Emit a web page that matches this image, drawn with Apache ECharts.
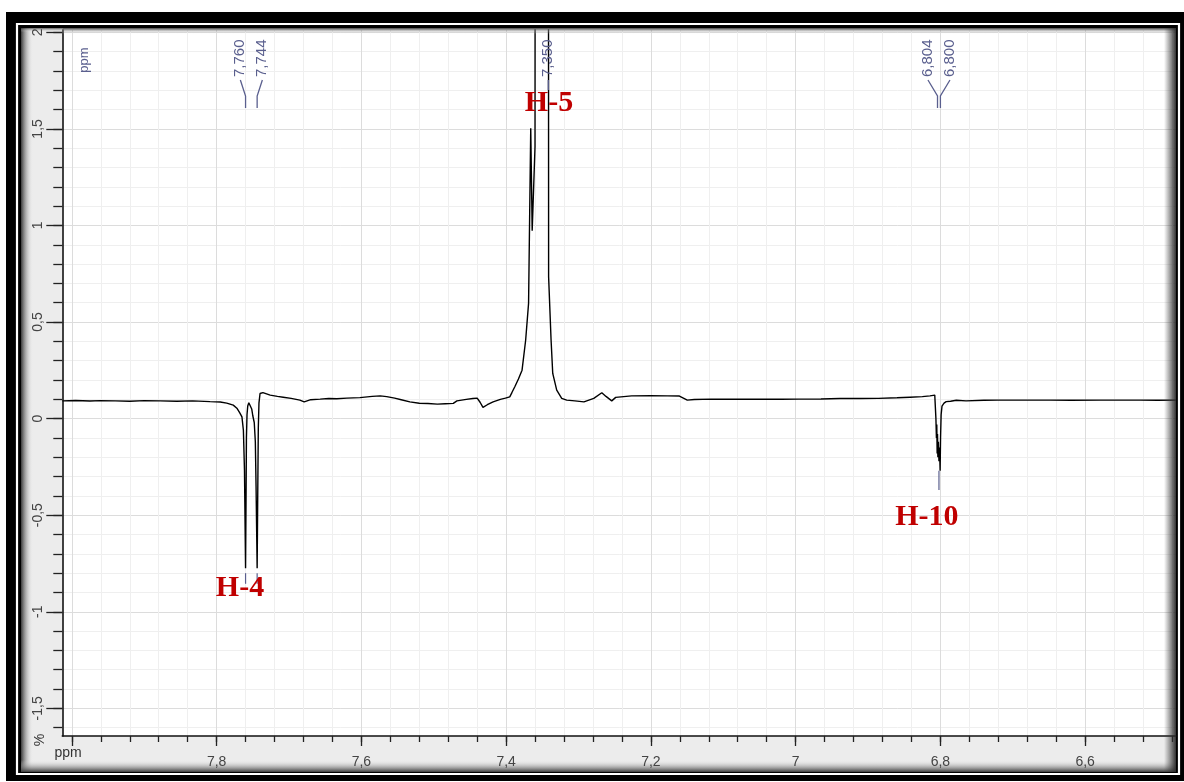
<!DOCTYPE html>
<html><head><meta charset="utf-8">
<script src="https://cdn.jsdelivr.net/npm/echarts@6/dist/echarts.min.js"></script>
<style>html,body{margin:0;padding:0;background:#fff;}#c{width:1184px;height:782px;}</style>
</head><body><div id="c"></div>
<script>
// ---- data (chemical shift in ppm, intensity) ----
const ppm = [8.013,7.995,7.975,7.961,7.940,7.920,7.900,7.878,7.855,7.833,7.809,7.795,7.786,7.777,7.772,7.768,7.765,7.763,7.7615,7.7600,
7.7594,7.7588,7.7580,7.7570,7.7555,7.7545,7.7530,7.7515,7.7500,7.7480,7.7465,7.7455,7.7440,7.7432,7.7424,7.7415,7.7400,7.7380,7.7360,
7.726,7.716,7.708,7.697,7.685,7.679,7.670,7.657,7.645,7.634,7.620,7.602,7.585,7.574,7.565,7.554,7.545,7.533,7.520,7.508,7.495,7.484,7.473,
7.468,7.455,7.446,7.440,7.436,7.432,7.426,7.418,7.408,7.401,7.395,7.392,7.388,7.383,7.378,7.373,7.369,7.366,7.364,7.3601,7.3598,7.350,
7.3416,7.3413,7.3379,7.3356,7.3301,7.3232,7.3163,7.305,7.2925,7.2789,7.2678,7.2620,7.2595,7.2541,7.2486,7.2267,7.2000,7.1772,7.1606,
7.1497,7.1400,7.1167,7.080,7.0492,7.020,6.9956,6.965,6.9387,6.910,6.8858,6.860,6.842,6.825,6.8144,6.8078,6.8070,6.8062,6.8055,6.8050,
6.8045,6.8040,6.8035,6.8028,6.8020,6.8012,6.8004,6.7998,6.7990,6.7978,6.7950,6.7920,6.7860,6.7780,6.7646,6.7400,6.7208,6.690,6.6486,
6.620,6.5794,6.550,6.524,6.500,6.4745];
const intensity = [0.092,0.094,0.091,0.093,0.092,0.090,0.093,0.092,0.090,0.092,0.088,0.086,0.080,0.070,0.054,0.030,0.009,-0.060,-0.267,-0.775,
-0.45,-0.10,0.02,0.065,0.082,0.083,0.072,0.050,0.015,-0.02,-0.12,-0.35,-0.775,-0.40,-0.05,0.08,0.13,0.138,0.135,
0.122,0.115,0.111,0.105,0.096,0.087,0.098,0.101,0.104,0.103,0.106,0.109,0.115,0.118,0.114,0.106,0.098,0.087,0.080,0.078,0.075,0.077,0.079,
0.092,0.100,0.104,0.106,0.085,0.058,0.072,0.087,0.100,0.106,0.113,0.135,0.165,0.205,0.251,0.407,0.597,1.503,0.973,1.408,3.5,5.0,
3.5,0.734,0.407,0.234,0.148,0.105,0.096,0.092,0.087,0.105,0.134,0.115,0.105,0.092,0.110,0.118,0.119,0.118,0.117,
0.096,0.099,0.101,0.100,0.101,0.100,0.101,0.102,0.104,0.104,0.105,0.108,0.111,0.114,0.118,0.122,0.12,0.00,-0.10,-0.03,
-0.18,-0.08,-0.20,-0.12,-0.22,-0.15,-0.27,-0.10,0.02,0.065,0.08,0.088,0.090,0.095,0.092,0.095,0.096,0.096,0.096,
0.095,0.096,0.096,0.096,0.095,0.096];

// ---- axes ----
const xMin = 6.4745, xMax = 8.0132;
const yMin = -1.643, yMax = 2.012;
const xMajorTicks = [8.0, 7.8, 7.6, 7.4, 7.2, 7.0, 6.8, 6.6];
const xTickLabels = [7.8, 7.6, 7.4, 7.2, 7.0, 6.8, 6.6];
const yMajorTicks = [-1.5, -1, -0.5, 0, 0.5, 1, 1.5, 2];
const xMinorStep = 0.04, yMinorStep = 0.1;

// ---- annotations ----
const pickPpm = [7.760, 7.744, 7.350, 6.804, 6.800];
const pickLabels = ['7,760', '7,744', '7,350', '6,804', '6,800'];
const pickGroups = [[0, 1], [2], [3, 4]];
const assignLabels = ['H-4', 'H-5', 'H-10'];
const assignPpm = [7.7677, 7.3408, 6.8186];
const assignVal = [-0.878, 1.634, -0.51];
const troughMarks = [[7.760, -0.80, -0.855], [7.744, -0.80, -0.855], [6.802, -0.27, -0.37]];

const xMinor = [], yMinor = [];
for (let k = Math.ceil(xMin / xMinorStep - 1e-9); k * xMinorStep <= xMax + 1e-9; k++) xMinor.push(+(k * xMinorStep).toFixed(3));
for (let k = Math.ceil(yMin / yMinorStep - 1e-9); k * yMinorStep <= yMax + 1e-9; k++) yMinor.push(+(k * yMinorStep).toFixed(3));

const comma = v => String(v).replace('.', ',');
const FONT = 'Liberation Sans, Arial, sans-serif';
const ANN = '#5a5f8e';

const chart = echarts.init(document.getElementById('c'), null, {renderer: 'canvas'});
const PL = 62.3, PT = 30, PR = 1176, PB = 736;

const baseX = {type: 'value', inverse: true, min: xMin, max: xMax, position: 'bottom', gridIndex: 0};
const baseY = {type: 'value', min: yMin, max: yMax, position: 'left', gridIndex: 0};

chart.setOption({
  animation: false,
  backgroundColor: 'transparent',
  grid: {left: PL, top: PT, width: PR - PL, height: PB - PT, containLabel: false, outerBoundsMode: 'none', show: false},
  xAxis: [
    Object.assign({}, baseX, {
      axisLine: {show: true, onZero: false, lineStyle: {color: '#111', width: 1.6}},
      axisTick: {show: true, customValues: xMinor, length: 6, lineStyle: {color: '#222', width: 1.3}},
      axisLabel: {show: false},
      splitLine: {show: true, lineStyle: {color: '#efefef', width: 1}}
    }),
    Object.assign({}, baseX, {
      axisLine: {show: false, onZero: false},
      axisTick: {show: true, customValues: xMajorTicks, length: 10, lineStyle: {color: '#222', width: 1.3}},
      axisLabel: {show: true, customValues: xTickLabels, formatter: comma, color: '#444', fontSize: 14, fontFamily: FONT, margin: 19},
      splitLine: {show: true, lineStyle: {color: '#dcdcdc', width: 1}}
    })
  ],
  yAxis: [
    Object.assign({}, baseY, {
      axisLine: {show: true, onZero: false, lineStyle: {color: '#111', width: 1.6}},
      axisTick: {show: true, customValues: yMinor, length: 9, lineStyle: {color: '#222', width: 1.3}},
      axisLabel: {show: false},
      splitLine: {show: true, lineStyle: {color: '#efefef', width: 1}}
    }),
    Object.assign({}, baseY, {
      axisLine: {show: false, onZero: false},
      axisTick: {show: true, customValues: yMajorTicks, length: 16, lineStyle: {color: '#222', width: 1.3}},
      axisLabel: {show: true, customValues: yMajorTicks, formatter: comma, rotate: 90, color: '#444', fontSize: 14, fontFamily: FONT, margin: 17},
      splitLine: {show: true, lineStyle: {color: '#dcdcdc', width: 1}}
    })
  ],
  series: [{
    type: 'line', xAxisIndex: 1, yAxisIndex: 1,
    data: ppm.map((p, i) => [p, intensity[i]]),
    symbol: 'none', showSymbol: false, clip: true, z: 5,
    lineStyle: {color: '#000', width: 1.4}
  }]
});

const px = (x, y) => chart.convertToPixel({xAxisIndex: 1, yAxisIndex: 1}, [x, y]);
const els = [];
// frame
els.push({type: 'rect', z: -20, shape: {x: 6, y: 12, width: 1190, height: 769}, style: {fill: '#000'}});
els.push({type: 'rect', z: -19, shape: {x: 17, y: 24, width: 1162, height: 750}, style: {fill: 'none', stroke: '#fff', lineWidth: 2.2}});
els.push({type: 'rect', z: -18, shape: {x: 21, y: 28, width: PR - 21, height: 772 - 28}, style: {fill: '#ececec'}});
els.push({type: 'rect', z: -17, shape: {x: 21, y: 28, width: 12, height: 744},
  style: {fill: {type: 'linear', x: 0, y: 0, x2: 1, y2: 0, colorStops: [{offset: 0, color: '#3a3a3a'}, {offset: 1, color: 'rgba(236,236,236,0)'}]}}});
els.push({type: 'rect', z: -17, shape: {x: 21, y: 760, width: PR - 21, height: 12},
  style: {fill: {type: 'linear', x: 0, y: 0, x2: 0, y2: 1, colorStops: [{offset: 0, color: 'rgba(236,236,236,0)'}, {offset: 1, color: '#3a3a3a'}]}}});
els.push({type: 'rect', z: -17, shape: {x: 21, y: 28, width: PL - 21, height: 4},
  style: {fill: {type: 'linear', x: 0, y: 0, x2: 0, y2: 1, colorStops: [{offset: 0, color: 'rgba(40,40,40,0.7)'}, {offset: 1, color: 'rgba(236,236,236,0)'}]}}});
els.push({type: 'rect', z: -16, shape: {x: PL, y: PT, width: PR - PL, height: PB - PT}, style: {fill: '#fff'}});
// edge shadows
els.push({type: 'rect', z: 100, silent: true, shape: {x: PL, y: 28, width: PR - PL, height: 6},
  style: {fill: {type: 'linear', x: 0, y: 0, x2: 0, y2: 1, colorStops: [{offset: 0, color: 'rgba(40,40,40,0.85)'}, {offset: 1, color: 'rgba(255,255,255,0)'}]}}});
els.push({type: 'rect', z: 100, silent: true, shape: {x: PR - 12, y: 28, width: 12, height: 744},
  style: {fill: {type: 'linear', x: 0, y: 0, x2: 1, y2: 0, colorStops: [{offset: 0, color: 'rgba(60,60,60,0)'}, {offset: 1, color: 'rgba(40,40,40,0.95)'}]}}});
// axis unit texts
els.push({type: 'text', z: 50, x: 68, y: 753, style: {text: 'ppm', fill: '#333', font: '14px ' + FONT, textAlign: 'center', textVerticalAlign: 'middle'}});
els.push({type: 'text', z: 50, x: 40, y: 740, rotation: Math.PI / 2, style: {text: '%', fill: '#333', font: '14px ' + FONT, textAlign: 'center', textVerticalAlign: 'middle'}});
els.push({type: 'text', z: 50, x: 84, y: 60, rotation: Math.PI / 2, style: {text: 'ppm', fill: ANN, font: '13px ' + FONT, textAlign: 'center', textVerticalAlign: 'middle'}});
// peak picks
const textBottom = 77, bendTop = 80, bendY = 96, lineEnd = 108;
pickGroups.forEach(g => {
  const xs = g.map(i => px(pickPpm[i], 0)[0]);
  if (g.length === 2) {
    const c = (xs[0] + xs[1]) / 2;
    const tx = [c - 11, c + 11];
    g.forEach((i, k) => {
      els.push({type: 'text', z: 50, x: tx[k], y: textBottom, rotation: Math.PI / 2,
        style: {text: pickLabels[i], fill: ANN, font: '15px ' + FONT, textAlign: 'left', textVerticalAlign: 'middle'}});
      els.push({type: 'polyline', z: 50, shape: {points: [[tx[k], bendTop], [xs[k], bendY], [xs[k], lineEnd]]},
        style: {stroke: ANN, lineWidth: 1.3, fill: null}});
    });
  } else {
    const i = g[0];
    els.push({type: 'text', z: 50, x: xs[0] + 6, y: textBottom, rotation: Math.PI / 2,
      style: {text: pickLabels[i], fill: ANN, font: '15px ' + FONT, textAlign: 'left', textVerticalAlign: 'middle'}});
    els.push({type: 'polyline', z: 50, shape: {points: [[xs[0] + 6, bendTop], [xs[0] + 6, 90]]},
      style: {stroke: ANN, lineWidth: 1.3, fill: null}});
  }
});
troughMarks.forEach(m => {
  const a = px(m[0], m[1]), b = px(m[0], m[2]);
  els.push({type: 'line', z: 50, shape: {x1: a[0], y1: a[1], x2: b[0], y2: b[1]}, style: {stroke: ANN, lineWidth: 1.2}});
});
// assignment labels
assignLabels.forEach((t, i) => {
  const p = px(assignPpm[i], assignVal[i]);
  els.push({type: 'text', z: 60, x: p[0], y: p[1],
    style: {text: t, fill: '#c00000', font: 'bold 30px Liberation Serif, Times New Roman, serif', textAlign: 'center', textVerticalAlign: 'middle'}});
});
chart.setOption({graphic: {elements: els}});
</script></body></html>
